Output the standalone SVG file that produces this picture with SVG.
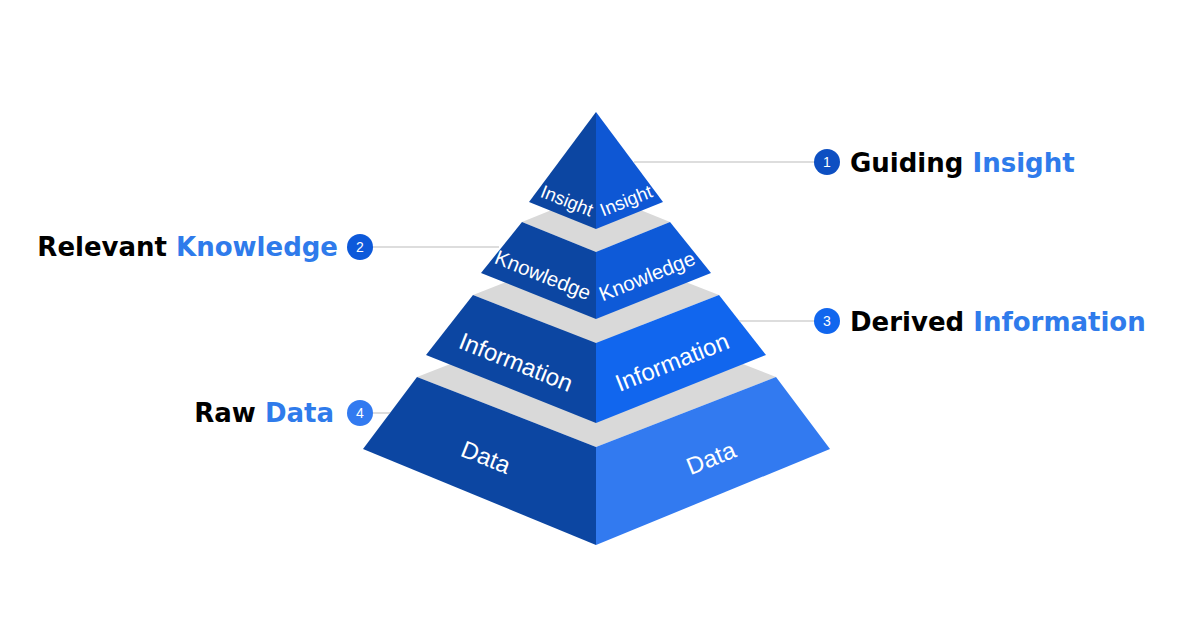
<svg xmlns="http://www.w3.org/2000/svg" width="1200" height="630" viewBox="0 0 1200 630">
  <style>
    .gray { fill: #D9D9D9; }
    .dark { fill: #0C46A2; }
    .r1 { fill: #0E57D4; }
    .r2 { fill: #0E5AD8; }
    .r3 { fill: #1166EE; }
    .r4 { fill: #327AF0; }
    .face { font-family: "Liberation Sans", Arial, sans-serif; fill: #FFFFFF; text-anchor: middle; }
    .lbl { font-family: "DejaVu Sans", Verdana, sans-serif; font-weight: bold; font-size: 26px; }
    .blk { fill: #000000; }
    .blu { fill: #2F7BEB; }
    .num { font-family: "Liberation Sans", Arial, sans-serif; font-size: 14px; fill: #FFFFFF; text-anchor: middle; }
    .conn { stroke: #BBBBBB; stroke-width: 1; fill: none; }
  </style>
  <rect width="1200" height="630" fill="#FFFFFF"/>

  <g id="tier-data">
    <polygon class="gray" points="417,377 596,307 776,377 596,447"/>
    <polygon class="dark" points="417,377 596,447 596,545 363,449"/>
    <polygon class="r4" points="596,447 776,377 830,449 596,545"/>
    <text class="face" font-size="24" transform="translate(486,457) rotate(21.8)" dy="0.35em">Data</text>
    <text class="face" font-size="24" transform="translate(711,458) rotate(-21.8)" dy="0.35em">Data</text>
  </g>

  <g id="tier-information">
    <polygon class="gray" points="473,295 596,247 719,295 596,343"/>
    <polygon class="dark" points="473,295 596,343 596,423 426,355"/>
    <polygon class="r3" points="596,343 719,295 766,355 596,423"/>
    <text class="face" font-size="24" transform="translate(516,362) rotate(21.8)" dy="0.35em">Information</text>
    <text class="face" font-size="24" transform="translate(672,362) rotate(-21.8)" dy="0.35em">Information</text>
  </g>

  <g id="tier-knowledge">
    <polygon class="gray" points="522,222 596,192 670,222 596,252"/>
    <polygon class="dark" points="522,222 596,252 596,319 481,273"/>
    <polygon class="r2" points="596,252 670,222 711,273 596,319"/>
    <text class="face" font-size="20.5" transform="translate(543,275) rotate(21.8)" dy="0.35em">Knowledge</text>
    <text class="face" font-size="20.5" transform="translate(647,276) rotate(-21.8)" dy="0.35em">Knowledge</text>
  </g>

  <g id="tier-insight">
    <polygon class="dark" points="596,112 596,229 529,202"/>
    <polygon class="r1" points="596,112 663,202 596,229"/>
    <text class="face" font-size="18.5" transform="translate(567,200.5) rotate(21.8)" dy="0.35em">Insight</text>
    <text class="face" font-size="18.5" transform="translate(626,200.5) rotate(-21.8)" dy="0.35em">Insight</text>
  </g>

  <g id="connectors">
    <line class="conn" x1="634" y1="162" x2="815" y2="162"/>
    <line class="conn" x1="373" y1="247" x2="499" y2="247"/>
    <line class="conn" x1="739" y1="321" x2="815" y2="321"/>
    <line class="conn" x1="373" y1="413" x2="390" y2="413"/>
  </g>

  <g id="label-1">
    <circle cx="827" cy="162" r="13" fill="#0D4FC2"/>
    <text class="num" x="827" y="167">1</text>
    <text class="lbl" x="850" y="171.5"><tspan class="blk">Guiding </tspan><tspan class="blu">Insight</tspan></text>
  </g>

  <g id="label-2">
    <circle cx="360" cy="247" r="13" fill="#0D59DA"/>
    <text class="num" x="360" y="252">2</text>
    <text class="lbl" x="338" y="256" text-anchor="end"><tspan class="blk">Relevant </tspan><tspan class="blu">Knowledge</tspan></text>
  </g>

  <g id="label-3">
    <circle cx="827" cy="321" r="13" fill="#1166EE"/>
    <text class="num" x="827" y="326">3</text>
    <text class="lbl" x="850" y="331"><tspan class="blk">Derived </tspan><tspan class="blu">Information</tspan></text>
  </g>

  <g id="label-4">
    <circle cx="360" cy="413" r="13" fill="#327AF0"/>
    <text class="num" x="360" y="418">4</text>
    <text class="lbl" x="334" y="422" text-anchor="end"><tspan class="blk">Raw </tspan><tspan class="blu">Data</tspan></text>
  </g>
</svg>
